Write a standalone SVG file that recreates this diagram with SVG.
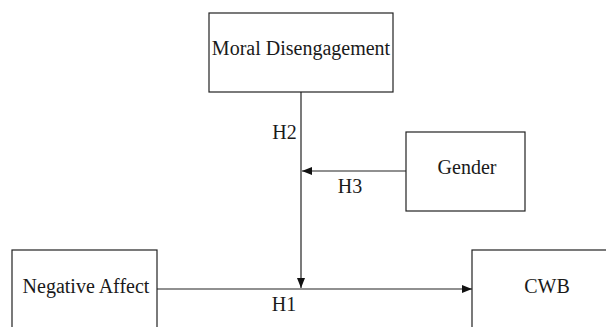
<svg xmlns="http://www.w3.org/2000/svg" width="606" height="327" viewBox="0 0 606 327">
<style>
.box{fill:#fff;stroke:#222;stroke-width:1.2}
.t{font-family:"Liberation Serif","Times New Roman",serif;font-size:20px;fill:#1a1a1a;text-anchor:middle}
.c{stroke:#222;stroke-width:1.2;fill:none}
</style>
<defs>
<marker id="ah" viewBox="0 0 10 8" refX="10" refY="4" markerWidth="10" markerHeight="8" markerUnits="userSpaceOnUse" orient="auto">
<path d="M0,0 L10,4 L0,8 Z" fill="#111"/>
</marker>
</defs>
<rect width="606" height="327" fill="#fff"/>
<g id="connectors">
<line class="c" x1="301" y1="92" x2="301" y2="288" marker-end="url(#ah)"/>
<line class="c" x1="406" y1="171" x2="302" y2="171" marker-end="url(#ah)"/>
<line class="c" x1="157" y1="289" x2="472" y2="289" marker-end="url(#ah)"/>
<text class="t" x="284.5" y="139">H2</text>
<text class="t" x="350" y="193">H3</text>
<text class="t" x="284" y="311">H1</text>
</g>
<g id="moral">
<rect class="box" x="209" y="13" width="184" height="79"/>
<text class="t" x="301" y="55">Moral Disengagement</text>
</g>
<g id="gender">
<rect class="box" x="406" y="132" width="119" height="79"/>
<text class="t" x="467" y="174">Gender</text>
</g>
<g id="negative">
<rect class="box" x="12" y="250" width="145" height="90"/>
<text class="t" x="86" y="293">Negative Affect</text>
</g>
<g id="cwb">
<rect class="box" x="472" y="250" width="150" height="90"/>
<text class="t" x="547" y="293">CWB</text>
</g>
</svg>
